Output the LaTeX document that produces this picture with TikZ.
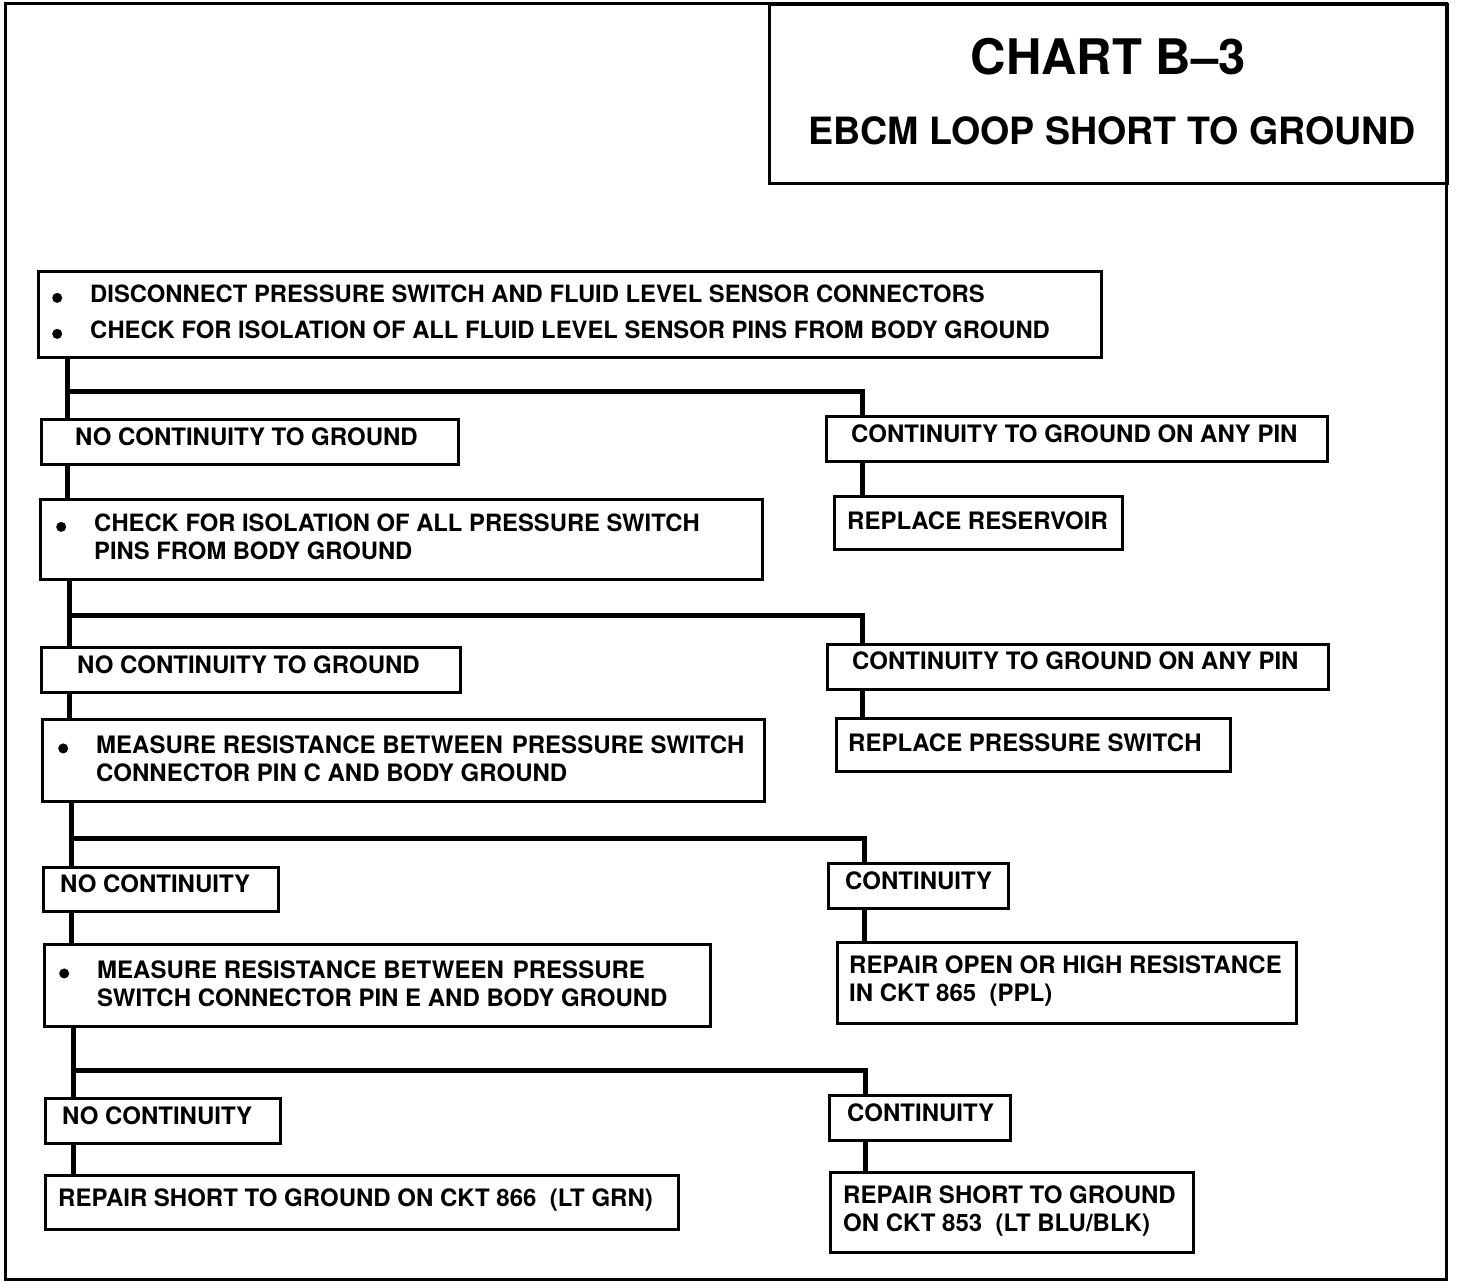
\documentclass[tikz,border=0pt]{standalone}
\usepackage{fontspec}
\setmainfont{TeX Gyre Heros}
\newcommand\bodyfont{\fontsize{24}{28}\selectfont\bfseries}
\newcommand\bul{\llap{\tikz[baseline=-4.8pt]\fill (0pt,0pt) circle (5pt);\hspace{28pt}}}
\tikzset{
  box/.style={draw, line width=3.2pt, rectangle, inner sep=0pt, anchor=north west},
  txt/.style={anchor=west, inner sep=0pt, align=left, font=\bodyfont},
  conn/.style={line width=5pt, line join=miter},
  frame/.style={line width=3pt}
}
\begin{document}
\begin{tikzpicture}[x=1pt, y=-1pt]
\useasboundingbox (0,0) rectangle (1472,1282);
\fill[white] (0,0) rectangle (1472,1282);
% outer frame
\draw[frame] (5,3) rectangle (1446,1279);
% title box
\node[box, line width=3pt, minimum width=678pt, minimum height=179pt] (tb) at (768,3) {};
\node[inner sep=0pt, font=\fontsize{49}{56}\selectfont\bfseries] (title) at (1108,57) {CHART B–3};
\node[inner sep=0pt, font=\fontsize{37.6}{44}\selectfont\bfseries] (subtitle) at (1112,131) {EBCM LOOP SHORT TO GROUND};

% boxes
\node[box, minimum width=1063pt, minimum height=86pt] (b1) at (37,270) {};
\node[box, minimum width=417pt, minimum height=45pt] (b2) at (40,418) {};
\node[box, minimum width=501pt, minimum height=45pt] (b3) at (825,415) {};
\node[box, minimum width=288pt, minimum height=53pt] (b4) at (833,495) {};
\node[box, minimum width=722pt, minimum height=80pt] (b5) at (39,498) {};
\node[box, minimum width=419pt, minimum height=45pt] (b6) at (40,646) {};
\node[box, minimum width=501pt, minimum height=45pt] (b7) at (826,643) {};
\node[box, minimum width=394pt, minimum height=53pt] (b8) at (835,717) {};
\node[box, minimum width=722pt, minimum height=82pt] (b9) at (41,718) {};
\node[box, minimum width=235pt, minimum height=44pt] (b10) at (42,866) {};
\node[box, minimum width=180pt, minimum height=45pt] (b11) at (827,862) {};
\node[box, minimum width=459pt, minimum height=81pt] (b12) at (836,941) {};
\node[box, minimum width=666pt, minimum height=82pt] (b13) at (43,943) {};
\node[box, minimum width=235pt, minimum height=45pt] (b14) at (44,1097) {};
\node[box, minimum width=181pt, minimum height=45pt] (b15) at (828,1094) {};
\node[box, minimum width=633pt, minimum height=54pt] (b16) at (44,1174) {};
\node[box, minimum width=363pt, minimum height=80pt] (b17) at (829,1171) {};

% texts
\node[txt, font=\fontsize{23.8}{28}\selectfont\bfseries] (t1) at (90,312) {\bul DISCONNECT PRESSURE SWITCH AND FLUID LEVEL SENSOR CONNECTORS\\[8pt]\bul CHECK FOR ISOLATION OF ALL FLUID LEVEL SENSOR PINS FROM BODY GROUND};
\node[txt] (t2) at (75,437) {NO CONTINUITY TO GROUND};
\node[txt] (t3) at (851,434) {CONTINUITY TO GROUND ON ANY PIN};
\node[txt] (t4) at (847,521) {REPLACE RESERVOIR};
\node[txt, font=\fontsize{23.8}{28}\selectfont\bfseries] (t5) at (94,537) {\bul CHECK FOR ISOLATION OF ALL PRESSURE SWITCH\\PINS FROM BODY GROUND};
\node[txt] (t6) at (77,665) {NO CONTINUITY TO GROUND};
\node[txt] (t7) at (852,661) {CONTINUITY TO GROUND ON ANY PIN};
\node[txt] (t8) at (848,743) {REPLACE PRESSURE SWITCH};
\node[txt] (t9) at (96,758.5) {\bul MEASURE RESISTANCE BETWEEN\hspace{9pt}PRESSURE SWITCH\\CONNECTOR PIN C AND BODY GROUND};
\node[txt] (t10) at (60,884) {NO CONTINUITY};
\node[txt] (t11) at (845,881) {CONTINUITY};
\node[txt] (t12) at (849,981) {REPAIR OPEN OR HIGH RESISTANCE\\IN CKT 865\ \ (PPL)};
\node[txt] (t13) at (97,983.5) {\bul MEASURE RESISTANCE BETWEEN\hspace{9pt}PRESSURE\\SWITCH CONNECTOR PIN E AND BODY GROUND};
\node[txt] (t14) at (62,1116) {NO CONTINUITY};
\node[txt] (t15) at (847,1113) {CONTINUITY};
\node[txt] (t16) at (58,1200) {REPAIR SHORT TO GROUND ON CKT 866\ \ (LT GRN)};
\node[txt] (t17) at (843,1211) {REPAIR SHORT TO GROUND\\ON CKT 853\ \ (LT BLU/BLK)};

% connectors
\coordinate (j1) at (67,391);  \coordinate (k1) at (862,391);
\coordinate (j2) at (69,615);  \coordinate (k2) at (862,615);
\coordinate (j3) at (71,838);  \coordinate (k3) at (864,838);
\coordinate (j4) at (73,1070); \coordinate (k4) at (865,1070);

\draw[conn] (j1 |- b1.south) -- (j1 |- b2.north);
\draw[conn] (j1) -- (k1) -- (k1 |- b3.north);
\draw[conn] (k1 |- b3.south) -- (k1 |- b4.north);
\draw[conn] (j1 |- b2.south) -- (j1 |- b5.north);

\draw[conn] (j2 |- b5.south) -- (j2 |- b6.north);
\draw[conn] (j2) -- (k2) -- (k2 |- b7.north);
\draw[conn] (k2 |- b7.south) -- (k2 |- b8.north);
\draw[conn] (j2 |- b6.south) -- (j2 |- b9.north);

\draw[conn] (j3 |- b9.south) -- (j3 |- b10.north);
\draw[conn] (j3) -- (k3) -- (k3 |- b11.north);
\draw[conn] (k3 |- b11.south) -- (k3 |- b12.north);
\draw[conn] (j3 |- b10.south) -- (j3 |- b13.north);

\draw[conn] (j4 |- b13.south) -- (j4 |- b14.north);
\draw[conn] (j4) -- (k4) -- (k4 |- b15.north);
\draw[conn] (k4 |- b15.south) -- (k4 |- b17.north);
\draw[conn] (j4 |- b14.south) -- (j4 |- b16.north);
\end{tikzpicture}
\end{document}
